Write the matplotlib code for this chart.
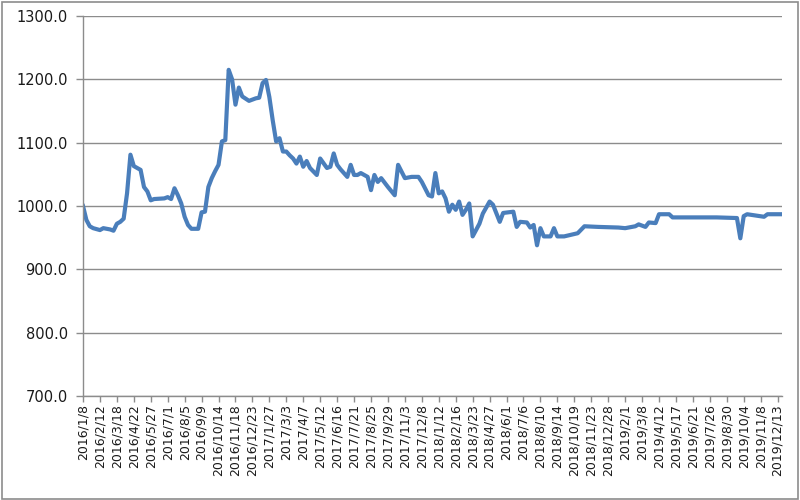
import matplotlib
matplotlib.use("Agg")
import matplotlib.pyplot as plt
from matplotlib.patches import Rectangle
import pandas as pd

# Weeks since 2016/1/8 and the price read at that week
week_no = [0, 1, 2, 3, 5, 6, 8, 9, 10, 11, 12, 13, 14, 15, 16, 17, 18, 19, 20, 21,
           24, 25, 26, 27, 28, 29, 30, 31, 32, 34, 35, 36, 37, 38, 39, 40, 41, 42, 43, 44,
           45, 46, 47, 49, 51, 52, 53, 54, 55, 56, 57, 58, 59, 60, 61, 62, 63, 64, 65, 66,
           67, 69, 70, 72, 73, 74, 75, 76, 78, 79, 80, 81, 82, 84, 85, 86, 87, 88, 90, 92,
           93, 95, 97, 99, 100, 102, 103, 104, 105, 106, 107, 108, 109, 110, 111, 112, 113, 114, 115, 116,
           117, 118, 120, 121, 123, 124, 127, 128, 129, 131, 132, 133, 134, 135, 136, 138, 139, 140, 142, 146,
           148, 152, 158, 160, 163, 164, 166, 167, 169, 170, 173, 174, 180, 187, 193, 194, 195, 196, 201, 202,
           206]
price = [1000, 978, 968, 965, 962, 965, 963, 961, 972, 975, 980, 1020, 1081, 1063, 1060, 1057, 1030, 1023, 1009, 1011,
         1012, 1014, 1011, 1028, 1017, 1004, 983, 970, 964, 964, 990, 991, 1030, 1044, 1055, 1065, 1102, 1104, 1215, 1200,
         1160, 1187, 1173, 1166, 1170, 1171, 1194, 1199, 1172, 1135, 1102, 1107, 1086, 1086, 1080, 1075, 1067, 1078, 1062, 1071,
         1060, 1049, 1075, 1060, 1062, 1083, 1065, 1058, 1046, 1065, 1049, 1049, 1052, 1046, 1025, 1049, 1038, 1044, 1030, 1017,
         1065, 1044, 1046, 1046, 1038, 1017, 1015, 1052, 1020, 1023, 1012, 991, 1002, 994, 1007, 986, 994, 1004, 952, 962,
         972, 988, 1007, 1002, 975, 989, 991, 967, 975, 974, 966, 970, 938, 965, 952, 952, 965, 952, 952, 957,
         968, 967, 966, 965, 968, 971, 967, 974, 973, 987, 987, 982, 982, 982, 981, 949, 984, 987, 983, 987,
         987]

start = pd.Timestamp("2016-01-08")
dates = [start + pd.Timedelta(weeks=w) for w in week_no]
tick_dates = [start + pd.Timedelta(days=35 * k) for k in range(42)]
tick_labels = [f"{d.year}/{d.month}/{d.day}" for d in tick_dates]
y_ticks = [700, 800, 900, 1000, 1100, 1200, 1300]

fig = plt.figure(figsize=(8, 5), dpi=100)
ax = fig.add_axes([83 / 800, 1 - 396 / 500, (782 - 83) / 800, (396 - 16) / 500])

ax.plot(dates, price, color="#4A7EBB", lw=3.0, solid_joinstyle="round")

ax.set_ylim(700, 1300)
ax.set_yticks(y_ticks)
ax.set_yticklabels([f"{v:.1f}" for v in y_ticks], fontsize=10.5, color="#1a1a1a")
ax.set_xlim(start, start + pd.Timedelta(weeks=206.3))
ax.set_xticks(tick_dates)
ax.set_xticklabels(tick_labels, rotation=90, fontsize=9, color="#1a1a1a", ha="center", va="top")

ax.yaxis.grid(True, color="#8C8C8C", lw=1.0)
ax.set_axisbelow(True)
for s in ["top", "right"]:
    ax.spines[s].set_visible(False)
for s in ["left", "bottom"]:
    ax.spines[s].set_color("#8C8C8C")
    ax.spines[s].set_linewidth(1.0)
ax.tick_params(axis="y", length=5, width=1, color="#8C8C8C", pad=6)
ax.tick_params(axis="x", length=4, width=1, color="#8C8C8C", pad=2)

fig.patches.append(Rectangle((0.002, 0.003), 0.996, 0.994, transform=fig.transFigure,
                             fill=False, edgecolor="#8C8C8C", lw=1.2))

fig.savefig("out.png", dpi=100)
